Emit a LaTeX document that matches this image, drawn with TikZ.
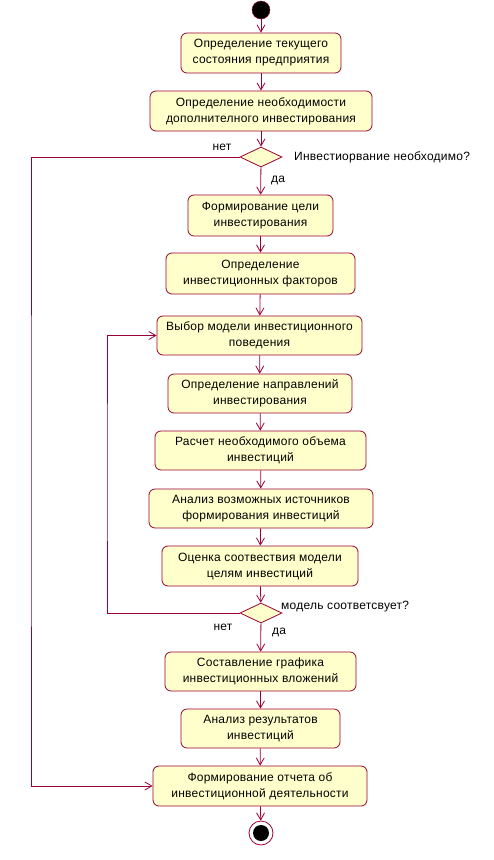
\documentclass[tikz,border=0pt]{standalone}
\usepackage{fontspec}
\setmainfont{Liberation Sans}[LetterSpace=2]
\usetikzlibrary{shapes.geometric,arrows.meta}
\definecolor{edge}{HTML}{990033}
\definecolor{boxfill}{HTML}{FFFFCC}
\begin{document}
\begin{tikzpicture}[x=1pt,y=-1pt,
  every node/.style={font=\fontsize{12}{16}\selectfont},
  act/.style={draw=edge,fill=boxfill,rounded corners=6pt,align=center,inner sep=0pt,line width=0.8pt},
  dec/.style={draw=edge,fill=boxfill,diamond,minimum width=42pt,minimum height=20pt,inner sep=0pt,line width=0.8pt},
  arr/.style={draw=edge,line width=0.8pt,-{Straight Barb[length=7pt,width=8pt]}},
  lbl/.style={inner sep=0pt}]
\useasboundingbox (0,0) rectangle (494,860);
\node[circle,fill=black,draw=edge,minimum size=18pt,inner sep=0pt] (start) at (261,10) {};
\node[act,minimum width=160pt,minimum height=40pt] (n1) at (261,53) {Определение текущего\\состояния предприятия};
\node[act,minimum width=222pt,minimum height=40pt] (n2) at (261,111) {Определение необходимости\\дополнителного инвестирования};
\node[dec] (d1) at (261,157) {};
\node[act,minimum width=145pt,minimum height=41pt] (n3) at (260.5,215.5) {Формирование цели\\инвестирования};
\node[act,minimum width=189pt,minimum height=41pt] (n4) at (260.5,273.5) {Определение\\инвестиционных факторов};
\node[act,minimum width=205pt,minimum height=39pt] (n5) at (259.5,335.5) {Выбор модели инвестиционного\\поведения};
\node[act,minimum width=184pt,minimum height=39pt] (n6) at (260,393.5) {Определение направлений\\инвестирования};
\node[act,minimum width=211pt,minimum height=39pt] (n7) at (260.5,450.5) {Расчет необходимого объема\\инвестиций};
\node[act,minimum width=224pt,minimum height=39pt] (n8) at (261,508.5) {Анализ возможных источников\\формирования инвестиций};
\node[act,minimum width=196pt,minimum height=40pt] (n9) at (260,566) {Оценка соотвествия модели\\целям инвестиций};
\node[dec] (d2) at (261,613) {};
\node[act,minimum width=191pt,minimum height=39pt] (n10) at (260.5,671.5) {Составление графика\\инвестиционных вложений};
\node[act,minimum width=159pt,minimum height=39pt] (n11) at (260.5,728.5) {Анализ результатов\\инвестиций};
\node[act,minimum width=214pt,minimum height=40pt] (n12) at (260,786) {Формирование отчета об\\инвестиционной деятельности};
\node[circle,draw=edge,line width=0.8pt,minimum size=24pt,inner sep=0pt] (stop) at (261,833) {};
\node[circle,fill=black,minimum size=16pt,inner sep=0pt] (stopin) at (261,833) {};
\coordinate (lx1) at (31,470);
\coordinate (lx2) at (107,470);
\node[lbl,anchor=west] (q1) at (294,157) {Инвестиорвание необходимо?};
\node[lbl] (no1) at (222,147) {нет};
\node[lbl] (yes1) at (278,180) {да};
\node[lbl,anchor=west] (q2) at (281,607) {модель соответсвует?};
\node[lbl] (no2) at (223,627) {нет};
\node[lbl] (yes2) at (279,632) {да};
\draw[arr] (start) -- (n1);
\draw[arr] (n1) -- (n2);
\draw[arr] (n2) -- (d1);
\draw[arr] (d1) -- (n3);
\draw[arr] (n3) -- (n4);
\draw[arr] (n4) -- (n5);
\draw[arr] (n5) -- (n6);
\draw[arr] (n6) -- (n7);
\draw[arr] (n7) -- (n8);
\draw[arr] (n8) -- (n9);
\draw[arr] (n9) -- (d2);
\draw[arr] (d2) -- (n10);
\draw[arr] (n10) -- (n11);
\draw[arr] (n11) -- (n12);
\draw[arr] (n12) -- (stop);
\draw[arr] (d1.west) -| (lx1) |- (n12.west);
\draw[arr] (d2.west) -| (lx2) |- (n5.west);
\end{tikzpicture}
\end{document}
